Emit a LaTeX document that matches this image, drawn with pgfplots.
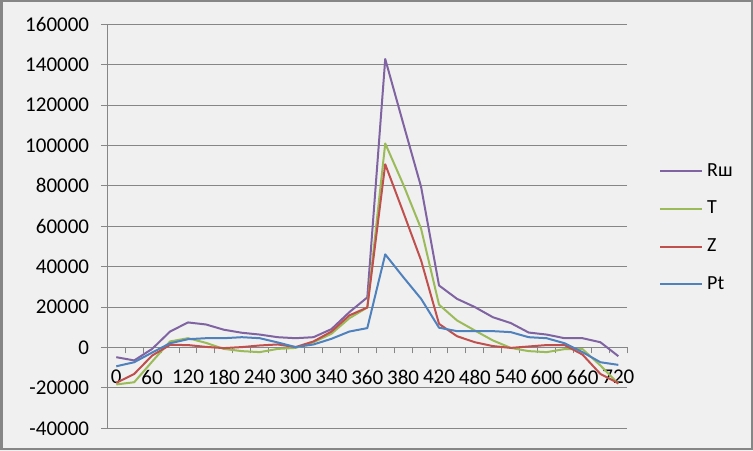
\documentclass[border=0pt]{standalone}
\usepackage{fontspec}
\setmainfont{Carlito}
\usepackage{pgfplots}
\pgfplotsset{compat=1.18}
\definecolor{bgc}{RGB}{240,240,240}
\definecolor{axc}{RGB}{134,134,134}
\definecolor{brd}{RGB}{134,134,134}
\definecolor{cR}{RGB}{128,100,162}
\definecolor{cT}{RGB}{155,187,89}
\definecolor{cZ}{RGB}{192,80,77}
\definecolor{cP}{RGB}{79,129,189}
\begin{document}
\begin{tikzpicture}[x=1bp,y=1bp]
\useasboundingbox (0,0) rectangle (753,451);
\fill[bgc] (0,0) rectangle (753,451);
\draw[brd, line width=2bp] (1.5,1.5) rectangle (751.5,449.5);
\begin{axis}[
  at={(107.3bp,22.7bp)}, anchor=south west,
  scale only axis, width=520bp, height=404bp,
  xmin=-0.5, xmax=28.5, ymin=-40000, ymax=160000,
  axis x line*=middle, axis y line*=left,
  axis line style={axc, line width=1bp},
  every tick/.style={axc, line width=1bp},
  major tick length=6bp,
  tick align=outside,
  xtick={-0.5,0.5,...,28.5}, xticklabels={},
  extra x ticks={0,2,...,28},
  extra x tick labels={0,60,120,180,240,300,340,360,380,420,480,540,600,660,720},
  extra x tick style={major tick length=0pt, grid=none,
     tick label style={yshift=-19bp}},
  ytick={-40000,-20000,...,160000},
  ymajorgrids, grid style={axc, line width=1bp},
  scaled y ticks=false,
  /pgf/number format/assume math mode=true,
  yticklabel={\pgfmathprintnumber[fixed,1000 sep={}]{\tick}},
  tick label style={font=\fontsize{21bp}{25bp}\selectfont, text=black},
  yticklabel style={anchor=east, inner sep=0pt, xshift=-12bp},
  clip=false,
  legend style={at={(1.061,0.659)}, anchor=north west, draw=none, fill=none,
     inner sep=0pt, font=\fontsize{20bp}{24bp}\selectfont,
     nodes={inner sep=1bp, text height=13bp, text depth=3bp},
     row sep=19.7bp, column sep=3bp},
  legend cell align=left,
  legend image code/.code={\draw[#1] (0bp,0bp) -- (42bp,0bp);},
  every axis plot/.append style={line width=2bp, line join=round},
]
\addplot[cR] coordinates {(0,-4800)(1,-6400)(2,-700)(3,7900)(4,12400)(5,11400)(6,8800)(7,7300)(8,6400)(9,5100)(10,4600)(11,5100)(12,9100)(13,17500)(14,24800)(15,142800)(16,111000)(17,79500)(18,30700)(19,24100)(20,20000)(21,15000)(22,12100)(23,7400)(24,6400)(25,4600)(26,4600)(27,2600)(28,-4300)};
\addlegendentry{Rш}
\addplot[cT] coordinates {(0,-18300)(1,-17200)(2,-7000)(3,3000)(4,4600)(5,2300)(6,-700)(7,-1800)(8,-2300)(9,-700)(10,-200)(11,2600)(12,6800)(13,14500)(14,19800)(15,101000)(16,80800)(17,58800)(18,21200)(19,13400)(20,8400)(21,3500)(22,-200)(23,-1800)(24,-2300)(25,-800)(26,-800)(27,-8900)(28,-18000)};
\addlegendentry{T}
\addplot[cZ] coordinates {(0,-17500)(1,-13100)(2,-4000)(3,1300)(4,1200)(5,300)(6,-300)(7,200)(8,1000)(9,1500)(10,200)(11,3000)(12,7900)(13,15900)(14,19800)(15,90700)(16,67100)(17,43100)(18,11700)(19,5600)(20,2600)(21,700)(22,-200)(23,500)(24,1200)(25,1200)(26,-3500)(27,-13100)(28,-17700)};
\addlegendentry{Z}
\addplot[cP] coordinates {(0,-9300)(1,-7300)(2,-2500)(3,2100)(4,4100)(5,4600)(6,4600)(7,5100)(8,4600)(9,2500)(10,200)(11,1500)(12,4300)(13,7900)(14,9600)(15,46100)(16,34900)(17,24100)(18,9800)(19,8100)(20,8100)(21,8100)(22,7600)(23,5100)(24,4600)(25,2100)(26,-2300)(27,-7300)(28,-8600)};
\addlegendentry{Pt}
\end{axis}
\end{tikzpicture}
\end{document}
